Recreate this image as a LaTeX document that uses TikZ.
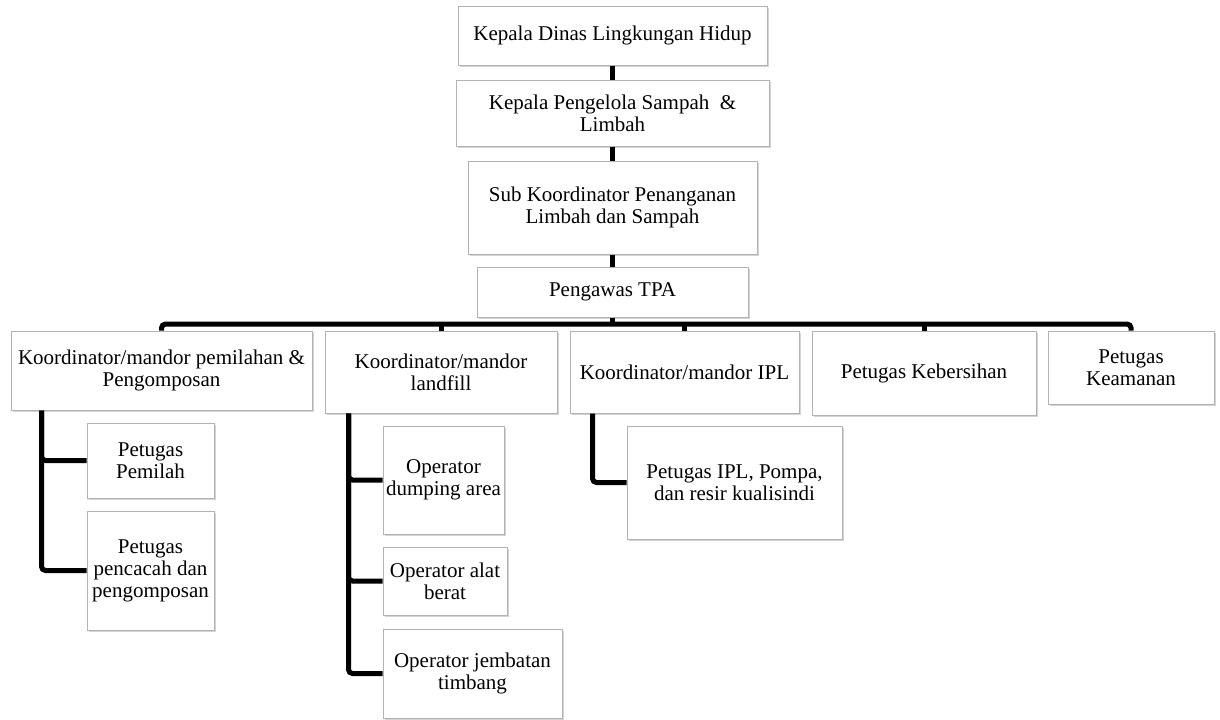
\documentclass[tikz,border=0pt]{standalone}
\usepackage{fontspec}
\setmainfont{Liberation Serif}
\usepackage{tikz}
\usepackage{xcolor}
\usetikzlibrary{shadows}
\tikzset{
    org-box/.style = {draw=gray!60, fill=white, line width=0.5pt, rectangle, align=center, inner sep=1pt,
        font=\fontsize{10.5}{11}\selectfont,
        drop shadow={shadow xshift=1pt, shadow yshift=-1.2pt, opacity=0.35, fill=gray}},
    org-link/.style = {draw=black, line width=2.5pt, rounded corners=2pt},
}

\begin{document}
\begin{tikzpicture}[x=0.5pt, y=-0.5pt]
\useasboundingbox (0,0) rectangle (1220,719);
% top chain
\node[org-box, minimum width=154.5pt, minimum height=29.5pt] (kadis) at (612.5,35.5) {Kepala Dinas Lingkungan Hidup};
\node[org-box, minimum width=156.5pt, minimum height=33pt] (kabid) at (612.5,113) {Kepala Pengelola Sampah\ \ \&\\Limbah};
\node[org-box, minimum width=144.5pt, minimum height=46.5pt] (subkoor) at (612.5,207.5) {Sub Koordinator Penanganan\\Limbah dan Sampah};
\node[org-box, minimum width=135.5pt, minimum height=25pt] (pengawas) at (612.5,292) {Pengawas TPA};
% second row
\node[org-box, minimum width=150.5pt, minimum height=39.5pt] (koorpilah) at (161.5,370.5) {Koordinator/mandor pemilahan \&\\Pengomposan};
\node[org-box, minimum width=116pt, minimum height=41pt] (koorland) at (441,372) {Koordinator/mandor\\landfill};
\node[org-box, minimum width=114.5pt, minimum height=41pt] (kooripl) at (684.5,372) {Koordinator/mandor IPL};
\node[org-box, minimum width=112pt, minimum height=42pt] (bersih) at (924,373) {Petugas Kebersihan};
\node[org-box, minimum width=83pt, minimum height=36.5pt] (aman) at (1131,367.5) {Petugas\\Keamanan};
% staff
\node[org-box, minimum width=63.5pt, minimum height=37.5pt] (pemilah) at (150.5,460.5) {Petugas\\Pemilah};
\node[org-box, minimum width=63.5pt, minimum height=59.5pt] (pencacah) at (150.5,570.5) {Petugas\\pencacah dan\\pengomposan};
\node[org-box, minimum width=60.5pt, minimum height=54pt] (dumping) at (443.5,480) {Operator\\dumping area};
\node[org-box, minimum width=62pt, minimum height=34pt] (alat) at (445,581) {Operator alat\\berat};
\node[org-box, minimum width=89.5pt, minimum height=44.5pt] (jembatan) at (472.5,673.5) {Operator jembatan\\timbang};
\node[org-box, minimum width=107.5pt, minimum height=56.5pt] (ipl) at (734.5,482.5) {Petugas IPL, Pompa,\\dan resir kualisindi};
% links
\coordinate (bus) at (612.5,324);
\draw[org-link] (kadis) -- (kabid);
\draw[org-link] (kabid) -- (subkoor);
\draw[org-link] (subkoor) -- (pengawas);
\draw[org-link] (pengawas) -- (bus);
\draw[org-link] (koorpilah.north) |- (bus) -| (aman.north);
\draw[org-link] (koorland.north) -- (koorland.north |- bus);
\draw[org-link] (kooripl.north) -- (kooripl.north |- bus);
\draw[org-link] (bersih.north) -- (bersih.north |- bus);
\draw[org-link] ([xshift=15.5pt]koorpilah.south west) |- (pemilah.west);
\draw[org-link] ([xshift=15.5pt]koorpilah.south west) |- (pencacah.west);
\draw[org-link] ([xshift=12pt]koorland.south west) |- (dumping.west);
\draw[org-link] ([xshift=12pt]koorland.south west) |- (alat.west);
\draw[org-link] ([xshift=12pt]koorland.south west) |- (jembatan.west);
\draw[org-link] ([xshift=11.5pt]kooripl.south west) |- (ipl.west);
\end{tikzpicture}
\end{document}
